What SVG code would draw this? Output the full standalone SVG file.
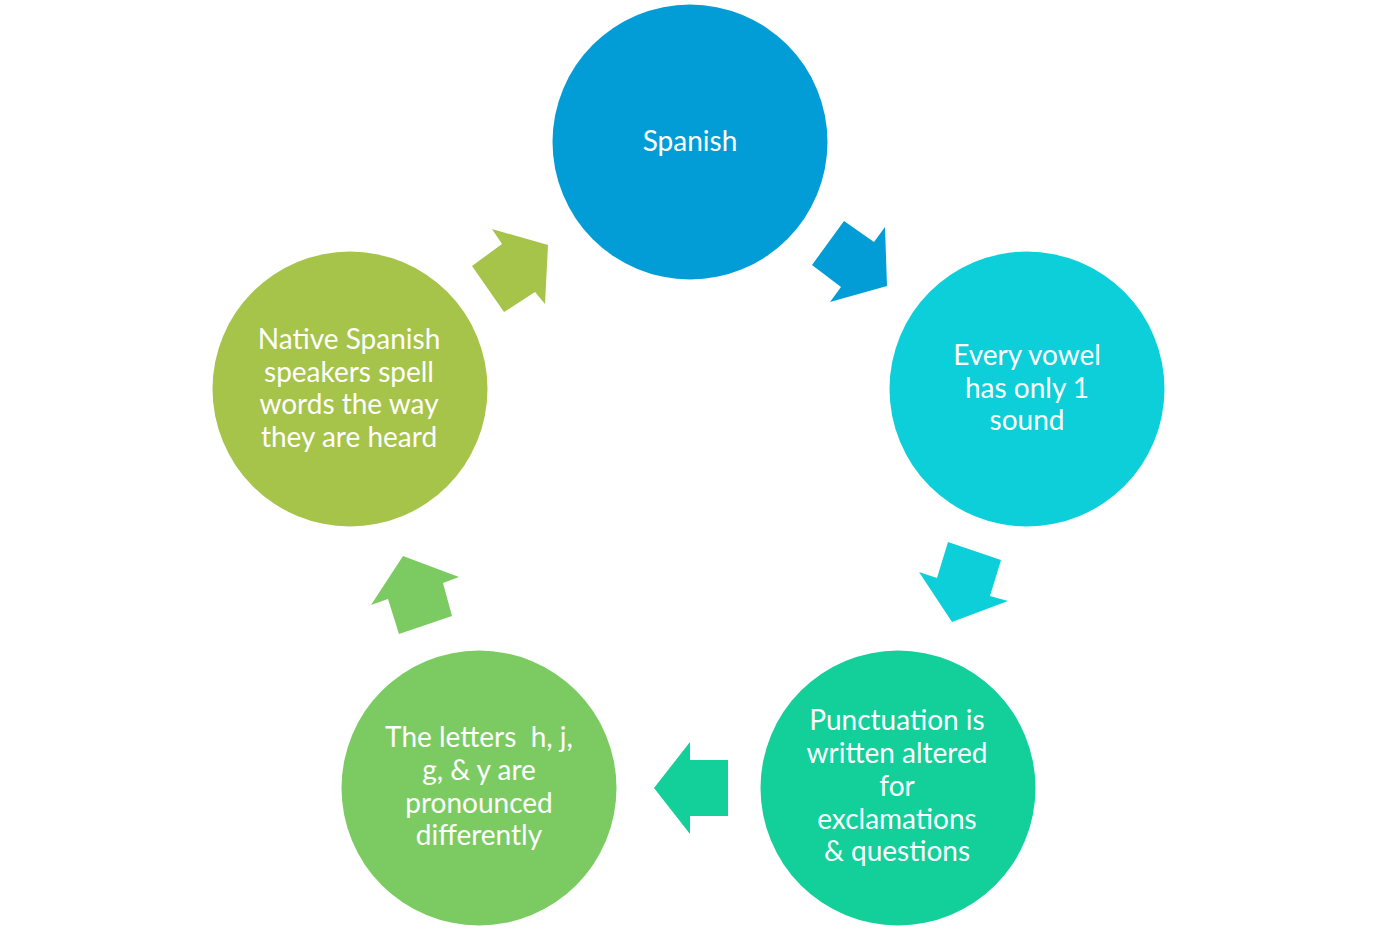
<svg xmlns="http://www.w3.org/2000/svg" width="1377" height="931" viewBox="0 0 1377 931">
<style>
text{font-family:"Lato","Liberation Sans",sans-serif;font-size:28px;fill:#fff;text-anchor:middle}
</style>
<rect width="1377" height="931" fill="#fff"/>
<g id="connectors">
<polygon fill="#029DD7" points="844,221 874,242 885,227 887,286 830,302 841,287 812,265"/>
<polygon fill="#0DCFDA" points="948,542 1001,560 990,596 1008,601 952,622 919,572 937,578"/>
<polygon fill="#13CF99" points="690,742 690,760 728,760 728,816 690,816 690,834 654,788"/>
<polygon fill="#7CCB62" points="403,556 459,577 443,583 452,616 399,634 388,599 371,605"/>
<polygon fill="#A6C34A" points="492,229 548,245 545,304 535,292 504,312 472,266 502,244"/>
</g>
<g id="n1">
<circle cx="690" cy="142" r="137.5" fill="#029DD7"/>
<text x="690" y="151">Spanish</text>
</g>
<g id="n2">
<circle cx="1027" cy="389" r="137.5" fill="#0DCFDA"/>
<text x="1027" y="365">Every vowel</text>
<text x="1027" y="398">has only 1</text>
<text x="1027" y="430">sound</text>
</g>
<g id="n3">
<circle cx="898" cy="788" r="137.5" fill="#13CF99"/>
<text x="897" y="730">Punctuation is</text>
<text x="897" y="763">written altered</text>
<text x="897" y="796">for</text>
<text x="897" y="829">exclamations</text>
<text x="897" y="861">&amp; questions</text>
</g>
<g id="n4">
<circle cx="479" cy="788" r="137.5" fill="#7CCB62"/>
<text x="479" y="747" xml:space="preserve">The letters  h, j,</text>
<text x="479" y="780">g, &amp; y are</text>
<text x="479" y="813">pronounced</text>
<text x="479" y="845">differently</text>
</g>
<g id="n5">
<circle cx="350" cy="389" r="137.5" fill="#A6C34A"/>
<text x="349" y="349">Native Spanish</text>
<text x="349" y="382">speakers spell</text>
<text x="349" y="414">words the way</text>
<text x="349" y="447">they are heard</text>
</g>
</svg>
